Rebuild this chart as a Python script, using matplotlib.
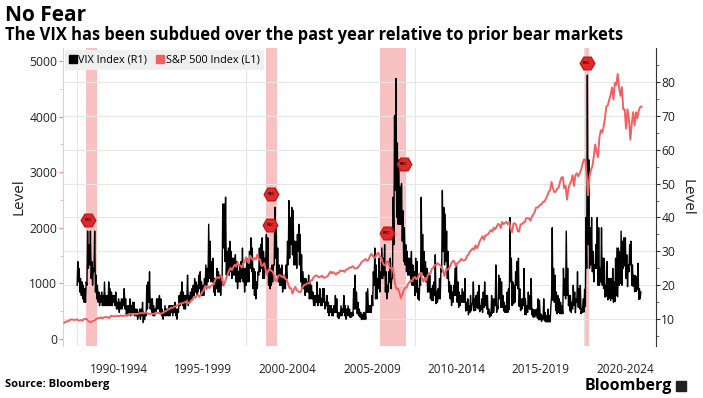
import numpy as np
import pandas as pd
import matplotlib
matplotlib.use("Agg")
import matplotlib.pyplot as plt
import matplotlib.dates as mdates
from matplotlib.lines import Line2D
from matplotlib.patches import Rectangle

plt.rcParams['font.family'] = ['Open Sans', 'DejaVu Sans']

# S&P 500, month-end level, Mar 1989 .. May 2023 (left axis)
spx = [
    294, 310, 320, 318, 346, 351, 349, 340, 346, 353,
    329, 332, 340, 331, 361, 358, 356, 323, 306, 304, 322, 330,
    344, 367, 375, 375, 390, 371, 388, 395, 388, 392, 375, 417,
    409, 413, 404, 415, 415, 408, 424, 414, 418, 419, 431, 436,
    439, 443, 452, 440, 450, 451, 448, 464, 459, 468, 462, 466,
    482, 467, 446, 451, 457, 444, 458, 475, 463, 472, 454, 459,
    470, 487, 501, 515, 533, 545, 562, 562, 584, 582, 605, 616,
    636, 641, 646, 654, 669, 671, 640, 652, 687, 705, 757, 741,
    786, 791, 757, 801, 848, 885, 954, 899, 947, 915, 955, 970,
    980, 1049, 1102, 1112, 1091, 1134, 1121, 957, 1017, 1099, 1164, 1229,
    1280, 1238, 1286, 1335, 1302, 1373, 1329, 1320, 1283, 1363, 1389, 1469,
    1394, 1366, 1499, 1452, 1421, 1455, 1431, 1518, 1437, 1429, 1315, 1320,
    1366, 1240, 1160, 1249, 1256, 1224, 1211, 1134, 1041, 1060, 1139, 1148,
    1130, 1107, 1147, 1076, 1067, 990, 912, 916, 815, 886, 936, 880,
    856, 841, 848, 917, 964, 975, 990, 1008, 996, 1051, 1058, 1112,
    1131, 1145, 1126, 1107, 1121, 1141, 1102, 1104, 1115, 1130, 1174, 1212,
    1181, 1204, 1181, 1157, 1192, 1191, 1234, 1220, 1229, 1207, 1249, 1248,
    1280, 1281, 1295, 1311, 1270, 1270, 1277, 1304, 1336, 1378, 1401, 1418,
    1438, 1407, 1421, 1482, 1531, 1503, 1455, 1474, 1527, 1549, 1481, 1468,
    1379, 1331, 1323, 1386, 1400, 1280, 1267, 1283, 1166, 969, 896, 903,
    826, 735, 798, 873, 919, 919, 987, 1021, 1057, 1036, 1096, 1115,
    1074, 1104, 1169, 1187, 1089, 1031, 1102, 1049, 1141, 1183, 1181, 1258,
    1286, 1327, 1326, 1364, 1345, 1321, 1292, 1219, 1131, 1253, 1247, 1258,
    1312, 1366, 1408, 1398, 1310, 1362, 1379, 1407, 1441, 1412, 1416, 1426,
    1498, 1515, 1569, 1598, 1631, 1606, 1686, 1633, 1682, 1757, 1806, 1848,
    1783, 1859, 1872, 1884, 1924, 1960, 1931, 2003, 1972, 2018, 2068, 2059,
    1995, 2105, 2068, 2086, 2107, 2063, 2104, 1972, 1920, 2079, 2080, 2044,
    1940, 1932, 2060, 2065, 2097, 2099, 2174, 2171, 2168, 2126, 2199, 2239,
    2279, 2364, 2363, 2384, 2412, 2423, 2470, 2472, 2519, 2575, 2648, 2674,
    2824, 2714, 2641, 2648, 2705, 2718, 2816, 2902, 2914, 2712, 2760, 2507,
    2704, 2784, 2834, 2946, 2752, 2942, 2980, 2926, 2977, 3038, 3141, 3231,
    3226, 2954, 2585, 2912, 3044, 3100, 3271, 3500, 3363, 3270, 3622, 3756,
    3714, 3811, 3973, 4181, 4204, 4298, 4395, 4523, 4308, 4605, 4567, 4766,
    4516, 4374, 4530, 4132, 4132, 3785, 4130, 3955, 3586, 3872, 4080, 3840,
    4077, 3970, 4109, 4169, 4180,
]

# VIX monthly high / low, Jan 1990 .. May 2023 (right axis)
vix_hi = [
    27, 25, 22, 21, 20, 19, 21, 36, 32, 36, 27, 25,
    36, 23, 20, 18, 17, 18, 17, 21, 17, 17, 21, 19,
    18, 17, 17, 18, 15, 16, 15, 16, 16, 19, 16, 14,
    14, 16, 14, 15, 15, 13, 13, 12, 13, 13, 15, 12,
    12, 20, 21, 24, 16, 16, 14, 13, 16, 16, 17, 16,
    13, 12, 14, 13, 13, 14, 14, 14, 14, 15, 13, 13,
    17, 18, 21, 18, 17, 17, 23, 17, 18, 19, 20, 22,
    21, 20, 23, 24, 21, 20, 22, 26, 25, 38, 33, 27,
    28, 22, 21, 25, 24, 23, 21, 44, 44, 46, 30, 31,
    33, 30, 28, 28, 29, 27, 24, 26, 27, 31, 25, 25,
    28, 27, 30, 34, 31, 25, 24, 21, 24, 31, 32, 34,
    30, 28, 35, 34, 24, 25, 26, 26, 43, 38, 31, 26,
    25, 26, 22, 23, 26, 33, 45, 40, 43, 42, 33, 33,
    35, 38, 35, 29, 24, 22, 22, 21, 23, 21, 20, 18,
    17, 17, 21, 17, 19, 16, 19, 19, 15, 17, 15, 14,
    14, 13, 14, 17, 16, 12, 12, 14, 13, 17, 14, 13,
    14, 13, 12, 12, 19, 23, 18, 15, 13, 12, 11.4, 12,
    12, 18, 19, 14, 14, 17, 24, 31, 26, 22, 28, 24,
    31, 28, 32, 24, 20, 24, 28, 22, 46, 70, 81, 62,
    57, 49, 50, 42, 37, 32, 30, 28, 28, 30, 26, 24,
    28, 27, 19, 22, 46, 35, 30, 27, 25, 23, 23, 19,
    20, 21, 29, 18, 19, 22, 25, 48, 43, 41, 36, 30,
    21, 20, 18, 20, 25, 26, 21, 18, 17, 19, 18, 22,
    15, 16, 14, 17, 14, 21, 16, 17, 18, 20, 14, 16,
    18, 21, 17, 17, 13, 12, 17, 16, 16, 26, 14, 23,
    22, 21, 17, 15, 14, 18, 19, 40, 28, 21, 20, 24,
    27, 28, 19, 16, 16, 25, 16, 14, 18, 17, 22, 13,
    12.8, 12.8, 13, 16, 15.6, 11.5, 11, 16, 12, 11, 13, 11,
    13.5, 37, 25, 23, 18, 17, 16, 15, 14, 25, 22, 36,
    25, 17, 17, 15, 20, 18, 16, 24, 19, 20, 13, 16,
    18.8, 40, 82, 57, 37, 40, 30, 26, 32, 40, 37, 25,
    37, 28, 28, 20, 27, 22, 22, 22, 25, 21, 28, 31,
    31, 30, 36, 33, 34, 34, 29, 26, 32, 33, 26, 23,
    22.9, 22.6, 26.5, 19, 18,
]
vix_lo = [
    20, 21, 18, 17, 16, 15, 15, 20, 25, 26, 22, 20,
    24, 18, 16, 15, 14, 15, 14, 14, 14, 14, 14, 14,
    14, 14, 15, 14, 13, 13, 12, 13, 13, 14, 13, 11,
    11, 12, 11, 12, 12, 11, 11, 10, 11, 10, 11, 9,
    9.9, 11, 13, 15, 13, 12, 11, 11, 12, 13, 13, 12,
    11, 10, 11, 11, 11, 11, 11, 12, 11, 12, 11, 10,
    12, 14, 15, 14, 13, 13, 16, 14, 15, 16, 16, 17,
    18, 17, 18, 19, 17, 17, 17, 20, 20, 21, 22, 21,
    21, 18, 17, 19, 18, 18, 17, 20, 31, 27, 23, 23,
    23, 24, 22, 23, 23, 21, 19, 21, 21, 22, 21, 18,
    20, 21, 21, 25, 24, 19, 17, 16, 19, 23, 24, 25,
    22, 22, 26, 24, 20, 19, 20, 21, 26, 28, 23, 21,
    20, 20, 18, 19, 19, 22, 26, 28, 32, 29, 26, 26,
    25, 30, 26, 21, 19, 19, 17, 18, 18, 16, 16, 16,
    14, 14, 15, 14, 15, 14, 14, 15, 13, 14, 12, 11,
    12, 11, 11, 12, 12, 10.6, 10.2, 11, 11, 12, 11, 10,
    11, 11, 10.5, 10.6, 11, 13, 13, 11.6, 11, 10.6, 9.9, 10,
    9.9, 10, 12, 12, 12, 12, 14, 20, 16, 16, 19, 18,
    22, 22, 23, 18, 16, 18, 21, 19, 22, 32, 48, 40,
    38, 38, 38, 33, 27, 26, 24, 23, 23, 21, 20, 20,
    17, 18, 16, 15.6, 20, 24, 23, 22, 21, 18, 18, 16,
    15.5, 15.5, 17, 14.6, 15, 16, 16, 24, 30, 26, 27, 22,
    18, 16, 14, 15, 17, 17, 15, 13.5, 14, 15, 15, 15,
    12.4, 12.6, 11.3, 12, 12.5, 15, 12.5, 12.6, 13.5, 13, 12.2, 12.8,
    12, 13.5, 14, 13, 11.5, 10.6, 11, 11.8, 12, 14, 12, 13,
    16, 13.5, 13.5, 12.4, 12, 12, 12, 12.8, 21, 14, 14.5, 15,
    20, 19, 13.8, 12.5, 13, 14, 11.4, 11.3, 12, 13, 12.8, 11.3,
    10.6, 10.6, 11, 10.3, 9.8, 9.8, 9.4, 10, 9.5, 9.2, 9.2, 9.2,
    9.2, 17, 15.6, 15, 12.5, 11.6, 12, 11.6, 11.6, 11.6, 17, 16,
    17, 14, 12.5, 12, 13, 14, 11.9, 15, 13.5, 13, 11.6, 12,
    12.1, 13.7, 25, 32, 25, 26, 24, 21, 25, 25, 20, 20,
    21, 20, 19, 16.5, 16.8, 15.7, 16.2, 15.5, 16, 15, 15.2, 16.9,
    16.6, 20, 20.6, 20, 25, 25.7, 22, 19.6, 24, 26, 20, 19.7,
    18.1, 18.2, 18.7, 15.8, 16,
]

# recession periods (shaded)
rec_start = ['1990-07-01', '2001-03-01', '2007-12-01', '2020-02-01']
rec_end = ['1991-03-01', '2001-11-01', '2009-06-30', '2020-04-30']

# red badges (date, S&P-axis level)
badge_dates = ['1990-09-01', '2001-07-01', '2001-06-01', '2008-05-01', '2009-05-01', '2020-03-01']
badge_levels = [2140, 2600, 2050, 1900, 3150, 4960]

period_labels = ['1990-1994', '1995-1999', '2000-2004', '2005-2009',
                 '2010-2014', '2015-2019', '2020-2024']
period_mid = ['1992-06-15', '1997-06-15', '2002-06-15', '2007-06-15',
              '2012-06-15', '2017-06-15', '2022-06-15']

spx_dates = pd.date_range('1989-03-31', periods=len(spx), freq='ME')
vix_dates = pd.date_range('1990-01-01', periods=2 * len(vix_hi), freq='SMS')
vix = np.column_stack([vix_lo, vix_hi]).ravel()

RED = '#f06262'
BAND = '#f9c2c2'

fig = plt.figure(figsize=(7.03, 3.98), dpi=100)
ax = fig.add_axes([0.0896, 0.1307, 0.8434, 0.7487])
ax2 = ax.twinx()
ax.set_zorder(2)
ax2.set_zorder(1)
ax.patch.set_visible(False)
ax2.patch.set_visible(True)
ax2.xaxis.set_visible(True)

for s, e in zip(rec_start, rec_end):
    ax2.axvspan(pd.Timestamp(s), pd.Timestamp(e), color=BAND, lw=0, zorder=0)

ax2.plot(vix_dates, vix, color='black', lw=1.0, zorder=3)
ax.plot(spx_dates, spx, color=RED, lw=1.4, zorder=3)

for d, lv in zip(badge_dates, badge_levels):
    ax.plot(pd.Timestamp(d), lv, marker='H', ms=10.5, color='#e02a2a', mec='#c01818', zorder=5)
    ax.text(pd.Timestamp(d), lv, 'REC', fontsize=3, color='#400000', ha='center', va='center',
            fontweight='bold', zorder=6)

ax.set_xlim(pd.Timestamp('1989-03-01'), pd.Timestamp('2024-04-05'))
ax.set_ylim(-126, 5234)
ax2.set_ylim(2.1, 90)

ax.set_xticks([pd.Timestamp(d) for d in period_mid])
ax.set_xticklabels(period_labels)
ax.xaxis.set_minor_locator(mdates.YearLocator(10))
ax.tick_params(axis='x', which='both', length=0, labelsize=8.5, labelcolor='#222222', pad=12)
ax2.tick_params(axis='x', which='both', length=0, labelbottom=False)
ax2.grid(which='minor', axis='x', color='#e6e6e6', lw=0.8)

ax.set_yticks([0, 1000, 2000, 3000, 4000, 5000])
ax.set_yticks(np.arange(500, 5000, 1000), minor=True)
ax.tick_params(axis='y', which='major', length=3, color='#f08a8a', labelsize=8.7,
               labelcolor='#222222', pad=1)
ax.tick_params(axis='y', which='minor', length=2, color='#f5b0b0')

ax2.set_yticks([10, 20, 30, 40, 50, 60, 70, 80])
ax2.set_yticks(np.arange(5, 90, 10), minor=True)
ax2.tick_params(axis='y', which='major', length=3, color='#333333', labelsize=8.7,
                labelcolor='#222222', pad=1)
ax2.tick_params(axis='y', which='minor', length=2, color='#555555')
ax2.grid(which='major', axis='y', color='#e6e6e6', lw=0.8)

for a in (ax, ax2):
    a.spines['top'].set_visible(False)
    a.spines['bottom'].set_visible(False)
ax.spines['right'].set_visible(False)
ax2.spines['left'].set_visible(False)
ax.spines['left'].set_color('#f6c4c4')
ax2.spines['right'].set_color('#333333')

ax.set_ylabel('Level', fontsize=11, color='#222222', labelpad=2)
ax2.set_ylabel('Level', fontsize=11, color='#222222', rotation=270, labelpad=14)

handles = [Line2D([], [], marker='s', ls='', color='black', ms=5.5),
           Line2D([], [], marker='s', ls='', color=RED, ms=5.5)]
leg = ax.legend(handles, ['VIX Index (R1)', 'S&P 500 Index (L1)'], loc='upper left',
                bbox_to_anchor=(0.0, 1.0), ncol=2, fontsize=7.8, frameon=True,
                fancybox=False, borderaxespad=0.15, handlelength=0.6, handletextpad=0.2,
                columnspacing=0.9, borderpad=0.45)
leg.get_frame().set_facecolor('#efefef')
leg.get_frame().set_edgecolor('none')
leg.get_frame().set_alpha(1)

fig.text(0.007, 0.962, 'No Fear', fontsize=15, fontweight='bold', color='black', va='center')
fig.text(0.007, 0.912, 'The VIX has been subdued over the past year relative to prior bear markets',
         fontsize=11.9, fontweight='bold', color='black', va='center')
fig.text(0.007, 0.035, 'Source: Bloomberg', fontsize=8, fontweight='bold', color='black', va='center')
fig.text(0.956, 0.03, 'Bloomberg', fontsize=11.5, fontweight='bold', color='black', va='center',
         ha='right')
fig.patches.append(Rectangle((0.962, 0.017), 0.014, 0.026, transform=fig.transFigure,
                             color='#222222'))

fig.savefig('out.png', dpi=100)
